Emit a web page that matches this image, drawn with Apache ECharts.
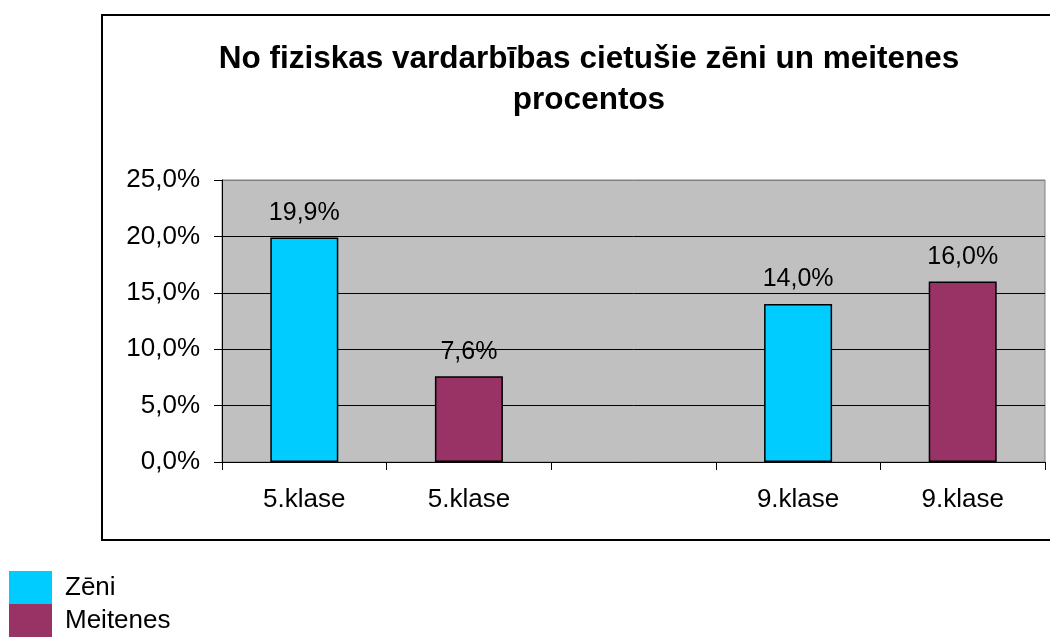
<!DOCTYPE html>
<html>
<head>
<meta charset="utf-8">
<script src="https://cdn.jsdelivr.net/npm/echarts@6/dist/echarts.min.js"></script>
<style>
  html, body { margin: 0; padding: 0; background: #fff; }
  #chart { width: 1050px; height: 637px; }
</style>
</head>
<body>
<div id="chart"></div>
<script>
// data
const categories = ['5.klase', '5.klase', '', '9.klase', '9.klase']
const boys = [19.9, '-', '-', 14.0, '-']
const girls = ['-', 7.6, '-', '-', 16.0]
const seriesNames = ['Zēni', 'Meitenes']
const titleText = 'No fiziskas vardarbības cietušie zēni un meitenes\nprocentos'

const fmt = v => v.toFixed(1).replace('.', ',') + '%'

const chart = echarts.init(document.getElementById('chart'))

const labelStyle = {
  show: true,
  position: 'top',
  distance: 12,
  fontFamily: 'Arial, Liberation Sans',
  fontSize: 25,
  color: '#000',
  formatter: p => fmt(p.value)
}

chart.setOption({
  animation: false,
  backgroundColor: '#fff',
  textStyle: { fontFamily: 'Arial, Liberation Sans' },
  graphic: [{
    type: 'rect',
    shape: { x: 102, y: 15, width: 1000, height: 525 },
    style: { fill: 'none', stroke: '#000', lineWidth: 2 },
    z: -10
  }],
  title: {
    text: titleText,
    left: 584,
    textAlign: 'center',
    top: 34,
    textStyle: {
      fontFamily: 'Arial, Liberation Sans',
      fontSize: 31.5,
      fontWeight: 'bold',
      color: '#000',
      lineHeight: 41
    }
  },
  legend: {
    orient: 'vertical',
    left: 9,
    top: 571,
    padding: 0,
    itemWidth: 43,
    itemHeight: 33,
    itemGap: 0,
    icon: 'rect',
    textStyle: { fontSize: 26, color: '#000', fontFamily: 'Arial, Liberation Sans', padding: [5, 0, 0, 8] },
    itemStyle: { borderWidth: 0 },
    data: seriesNames
  },
  grid: {
    left: 222,
    right: 5,
    top: 180,
    bottom: 175,
    show: true,
    backgroundColor: '#C0C0C0',
    borderColor: '#808080',
    borderWidth: 1
  },
  xAxis: {
    type: 'category',
    data: categories,
    axisLine: { lineStyle: { color: '#000', width: 1 } },
    axisTick: { show: true, length: 8, lineStyle: { color: '#000' } },
    axisLabel: { fontSize: 26, color: '#000', margin: 25 },
    splitLine: { show: false }
  },
  yAxis: {
    type: 'value',
    min: 0,
    max: 25,
    interval: 5,
    axisLine: { show: true, lineStyle: { color: '#000', width: 1 } },
    axisTick: { show: true, length: 8, lineStyle: { color: '#000' } },
    axisLabel: { fontSize: 26, color: '#000', margin: 22, formatter: v => fmt(v) },
    splitLine: { lineStyle: { color: ['#000', '#000', '#000', '#000', '#000', '#808080'], width: 1 } }
  },
  series: [{
    name: seriesNames[0],
    type: 'bar',
    data: boys,
    barWidth: 68,
    barGap: '-100%',
    itemStyle: { color: '#00CCFF', borderColor: '#000', borderWidth: 1.5 },
    label: labelStyle
  }, {
    name: seriesNames[1],
    type: 'bar',
    data: girls,
    barWidth: 68,
    itemStyle: { color: '#993366', borderColor: '#000', borderWidth: 1.5 },
    label: labelStyle
  }]
})
</script>
</body>
</html>
